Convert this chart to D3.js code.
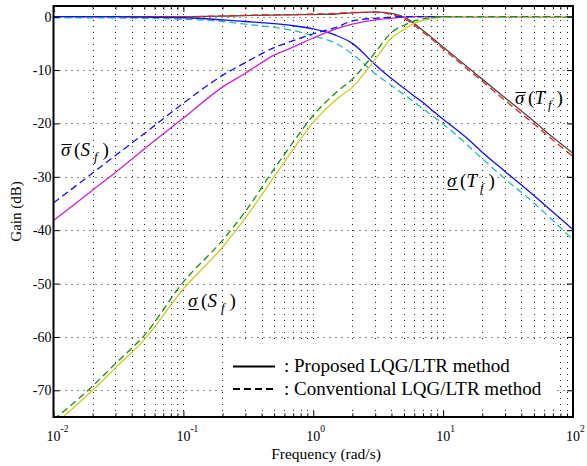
<!DOCTYPE html>
<html>
<head>
<meta charset="utf-8">
<script src="https://cdn.jsdelivr.net/npm/d3@7"></script>
<style>
	body { margin: 0; background: #fff; }
	svg { display: block; }
	text { font-family: "Liberation Serif", "DejaVu Serif", serif; }
</style>
</head>
<body>
<svg id="chart" width="587" height="466" font-family="Liberation Serif, DejaVu Serif, serif"></svg>
<script>
// Data
const freq = [0.01, 0.02, 0.03, 0.05, 0.1, 0.2, 0.3, 0.5, 0.7, 1, 1.5, 2, 3, 4, 5, 6, 7, 8, 10, 15, 20, 30, 50, 70, 100];

// sigma max of T_f
const tMaxProposed     = [0, 0, 0, 0, 0, 0.1, 0.2, 0.3, 0.35, 0.4, 0.5, 0.7, 0.9, 0.6, -0.1, -1.3, -2.6, -3.7, -5.7, -9.2, -11.7, -15.2, -19.6, -22.6, -25.6];
const tMaxConventional = [0, 0, 0, 0, 0, 0.15, 0.25, 0.35, 0.4, 0.5, 0.6, 0.8, 0.8, 0.4, -0.4, -1.6, -2.9, -4.0, -6.0, -9.6, -12.1, -15.7, -20.1, -23.1, -26.2];
// sigma min of T_f
const tMinProposed     = [0, 0, 0, -0.1, -0.2, -0.6, -0.9, -1.3, -1.7, -2.3, -3.5, -5.0, -9.0, -11.6, -13.4, -14.9, -16.1, -17.3, -19.2, -22.6, -25.4, -29.0, -33.5, -36.6, -39.9];
const tMinConventional = [-0.2, -0.2, -0.25, -0.3, -0.5, -0.9, -1.4, -2.0, -2.6, -3.6, -5.0, -7.0, -10.7, -12.9, -14.6, -16.0, -17.3, -18.3, -20.1, -23.8, -26.6, -30.4, -34.9, -38.2, -41.8];
// sigma max of S_f
const sMaxProposed     = [-38.2, -32.5, -29.2, -24.8, -19.0, -13.2, -10.6, -7.2, -5.7, -4.0, -2.3, -1.4, -0.6, -0.3, -0.1, 0, 0, 0, 0, 0, 0, 0, 0, 0, 0];
const sMaxConventional = [-34.9, -29.3, -26.0, -21.9, -16.2, -11.0, -8.6, -5.8, -4.5, -3.2, -2.0, -0.8, -0.3, -0.1, 0, 0, 0, 0, 0, 0, 0, 0, 0, 0, 0];
// sigma min of S_f
const sMinProposed     = [-76.6, -70.0, -65.8, -60.5, -51.0, -43.2, -37.7, -30.0, -24.9, -19.8, -15.5, -13.2, -8.0, -4.0, -2.4, -1.2, -0.7, -0.4, -0.1, 0, 0, 0, 0, 0, 0];
const sMinConventional = [-75.5, -69.2, -65.0, -59.7, -49.7, -41.9, -36.5, -28.5, -23.5, -18.5, -14.2, -11.7, -6.7, -3.0, -1.6, -0.8, -0.4, -0.2, 0, 0, 0, 0, 0, 0, 0];

const xMajor = [0.01, 0.1, 1, 10, 100];
const xExponents = ["-2", "-1", "0", "1", "2"];
const yMajor = [0, -10, -20, -30, -40, -50, -60, -70];

const legendLabels = [": Proposed LQG/LTR method", ": Conventional LQG/LTR method"];

const SERIF = "Liberation Serif, DejaVu Serif, serif";

function whenDocumentLoaded(action) {
	if (document.readyState === "loading") {
		document.addEventListener("DOMContentLoaded", action);
	} else {
		action();
	}
}

whenDocumentLoaded(() => {

	const left = 53.5, right = 573, top = 6, bottom = 417;

	const x = d3.scaleLog().domain([0.01, 100]).range([left, right]);
	const y = d3.scaleLinear().domain([-75, 2]).range([bottom, top]);

	// minor decade ticks 2..9
	const xMinor = [];
	xMajor.slice(0, -1).forEach(d => {
		for (let k = 2; k <= 9; k++) xMinor.push(d * k);
	});

	const svg = d3.select("#chart");

	svg.append("defs").append("clipPath").attr("id", "plot-clip")
		.append("rect")
		.attr("x", left).attr("y", top)
		.attr("width", right - left).attr("height", bottom - top);

	// Grid (dotted)
	const grid = svg.append("g")
		.attr("stroke", "#222")
		.attr("stroke-width", 1)
		.attr("stroke-dasharray", "1,5");

	grid.selectAll(".vgrid")
		.data(xMajor.concat(xMinor).filter(d => d > 0.01 && d < 100))
		.enter()
		.append("line")
			.attr("x1", d => Math.round(x(d)) + 0.5)
			.attr("x2", d => Math.round(x(d)) + 0.5)
			.attr("y1", bottom)
			.attr("y2", top);

	grid.selectAll(".hgrid")
		.data(yMajor)
		.enter()
		.append("line")
			.attr("x1", left)
			.attr("x2", right)
			.attr("y1", d => Math.round(y(d)) + 0.5)
			.attr("y2", d => Math.round(y(d)) + 0.5);

	// Legend background hides the grid
	svg.append("rect")
		.attr("x", 226).attr("y", 343)
		.attr("width", 330).attr("height", 65)
		.attr("fill", "#fff");

	// Curves
	const series = [
		{ values: tMaxProposed,     color: "#4a4a4a", dash: null },
		{ values: tMaxConventional, color: "#e8201c", dash: "7,4" },
		{ values: tMinConventional, color: "#22bcbc", dash: "7,4" },
		{ values: tMinProposed,     color: "#1010f0", dash: null },
		{ values: sMaxProposed,     color: "#cc22cc", dash: null },
		{ values: sMaxConventional, color: "#1010f0", dash: "7,4" },
		{ values: sMinProposed,     color: "#cccc20", dash: null },
		{ values: sMinConventional, color: "#1a8a1a", dash: "7,4" }
	];

	const line = d3.line()
		.x(d => x(d[0]))
		.y(d => y(d[1]))
		.curve(d3.curveMonotoneX);

	svg.append("g")
		.attr("clip-path", "url(#plot-clip)")
		.selectAll("path")
		.data(series)
		.enter()
		.append("path")
			.attr("d", s => line(freq.map((f, i) => [f, s.values[i]])))
			.attr("fill", "none")
			.attr("stroke", s => s.color)
			.attr("stroke-width", 1.3)
			.attr("stroke-dasharray", s => s.dash);

	// Axes: ticks inside on all four sides
	const tickGroup = (axis, transform) => {
		const g = svg.append("g")
			.attr("transform", transform)
			.call(axis);
		g.select(".domain").remove();
		g.selectAll("line").attr("stroke", "#000").attr("stroke-width", 1);
		return g;
	};

	tickGroup(d3.axisBottom(x).tickValues(xMajor).tickSizeInner(-6).tickSizeOuter(0).tickFormat(""), `translate(0,${bottom})`);
	tickGroup(d3.axisBottom(x).tickValues(xMinor).tickSizeInner(-3.5).tickSizeOuter(0).tickFormat(""), `translate(0,${bottom})`);
	tickGroup(d3.axisTop(x).tickValues(xMajor).tickSizeInner(-6).tickSizeOuter(0).tickFormat(""), `translate(0,${top})`);
	tickGroup(d3.axisTop(x).tickValues(xMinor).tickSizeInner(-3.5).tickSizeOuter(0).tickFormat(""), `translate(0,${top})`);
	tickGroup(d3.axisRight(y).tickValues(yMajor).tickSizeInner(-6).tickSizeOuter(0).tickFormat(""), `translate(${right},0)`);

	const yAxis = tickGroup(d3.axisLeft(y).tickValues(yMajor).tickSizeInner(-6).tickSizeOuter(0)
		.tickPadding(2).tickFormat(d => String(d)), `translate(${left},0)`);
	yAxis.attr("font-family", SERIF);
	yAxis.selectAll("text")
		.attr("font-family", SERIF)
		.attr("font-size", 14)
		.attr("fill", "#000");

	// X tick labels as 10^n
	const xl = svg.append("g")
		.selectAll("text")
		.data(xMajor)
		.enter()
		.append("text")
			.attr("x", d => x(d) - 7)
			.attr("y", 441)
			.attr("font-family", SERIF)
			.attr("font-size", 14)
			.attr("fill", "#000");
	xl.append("tspan").text("10");
	xl.append("tspan")
		.attr("font-size", 9.5)
		.attr("dy", -9)
		.text((d, i) => xExponents[i]);

	// Frame
	svg.append("rect")
		.attr("x", left).attr("y", top)
		.attr("width", right - left).attr("height", bottom - top)
		.attr("fill", "none")
		.attr("stroke", "#000")
		.attr("stroke-width", 2);

	// Axis titles
	svg.append("text")
		.attr("transform", `translate(21,${(top + bottom) / 2}) rotate(-90)`)
		.attr("text-anchor", "middle")
		.attr("font-family", SERIF)
		.attr("font-size", 15)
		.text("Gain (dB)");

	svg.append("text")
		.attr("x", 326)
		.attr("y", 459)
		.attr("text-anchor", "middle")
		.attr("font-family", SERIF)
		.attr("font-size", 15.5)
		.text("Frequency (rad/s)");

	// Curve labels: sigma with bar (max) or underline (min)
	function sigmaLabel(x0, y0, letter, isMax) {
		const g = svg.append("g").attr("font-size", 19).attr("font-family", SERIF).attr("fill", "#000");
		g.append("text").attr("x", x0).attr("y", y0).attr("font-style", "italic").text("σ");
		g.append("line")
			.attr("x1", x0 + 0.5).attr("x2", x0 + 11)
			.attr("y1", isMax ? y0 - 11.5 : y0 + 2.5)
			.attr("y2", isMax ? y0 - 11.5 : y0 + 2.5)
			.attr("stroke", "#000").attr("stroke-width", 1);
		g.append("text").attr("x", x0 + 13).attr("y", y0).text("(");
		g.append("text").attr("x", x0 + 19.5).attr("y", y0).attr("font-style", "italic").text(letter);
		g.append("text").attr("x", x0 + 33).attr("y", y0 + 5).attr("font-size", 13).attr("font-style", "italic").text("f");
		g.append("text").attr("x", x0 + 41.5).attr("y", y0).text(")");
	}

	sigmaLabel(61, 156, "S", true);
	sigmaLabel(515, 104, "T", true);
	sigmaLabel(447, 187, "T", false);
	sigmaLabel(188, 307, "S", false);

	// Legend
	const legend = svg.append("g");
	legend.selectAll("line")
		.data(legendLabels)
		.enter()
		.append("line")
			.attr("x1", 233).attr("x2", 275)
			.attr("y1", (d, i) => 366.5 + i * 22.5)
			.attr("y2", (d, i) => 366.5 + i * 22.5)
			.attr("stroke", "#000")
			.attr("stroke-width", 2)
			.attr("stroke-dasharray", (d, i) => i === 1 ? "7,4" : null);
	legend.selectAll("text")
		.data(legendLabels)
		.enter()
		.append("text")
			.attr("x", 284)
			.attr("y", (d, i) => 372 + i * 23)
			.attr("font-family", SERIF)
			.attr("font-size", 19)
			.text(d => d);
});
</script>
</body>
</html>
